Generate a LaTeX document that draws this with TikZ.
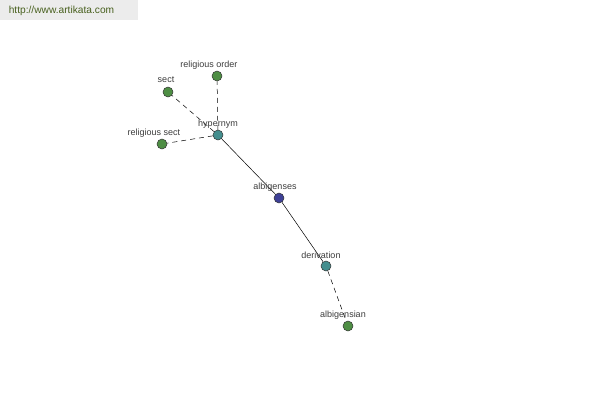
\documentclass[tikz,border=0pt]{standalone}
\usepackage{fontspec}
\setmainfont{Liberation Sans}
\definecolor{leafgreen}{RGB}{78,142,68}
\definecolor{hubteal}{RGB}{68,142,142}
\definecolor{rootblue}{RGB}{62,64,150}
\definecolor{bannergrey}{RGB}{236,236,236}
\definecolor{bannertext}{RGB}{72,96,30}
\definecolor{labelgrey}{RGB}{60,60,60}
\tikzset{
  dot/.style={circle,draw=black!80,line width=0.5pt,inner sep=0pt,minimum size=10pt},
  lbl/.style={inner sep=0pt,text=labelgrey,font=\fontsize{9}{10}\selectfont},
  rel/.style={draw=black,line width=0.5pt},
  relhyp/.style={rel,dash pattern=on 5pt off 4pt}
}
\begin{document}
\begin{tikzpicture}[x=1pt,y=-1pt]
\useasboundingbox (0,0) rectangle (600,400);
\fill[bannergrey] (0,0) rectangle (138,20);
\node[inner sep=0pt,text=bannertext,font=\fontsize{10.2}{11}\selectfont] (site) at (61.5,11) {http://www.artikata.com};
% nodes
\node[dot,fill=hubteal] (hyper) at (218,135) {};
\node[dot,fill=leafgreen] (order) at (217,76) {};
\node[dot,fill=leafgreen] (sect) at (168,92) {};
\node[dot,fill=leafgreen] (rsect) at (162,144) {};
\node[dot,fill=rootblue] (albig) at (279,198) {};
\node[dot,fill=hubteal] (deriv) at (326,266) {};
\node[dot,fill=leafgreen] (albian) at (348,326) {};
% links
\draw[rel] (albig) -- (hyper);
\draw[rel] (albig) -- (deriv);
\draw[relhyp] (hyper) -- (order);
\draw[relhyp] (hyper) -- (sect);
\draw[relhyp] (hyper) -- (rsect);
\draw[relhyp] (deriv) -- (albian);
% labels
\node[lbl] (hyperl) at (218,124) {hypernym};
\node[lbl] (orderl) at (209,65) {religious order};
\node[lbl] (sectl) at (166,80) {sect};
\node[lbl] (rsectl) at (154,133) {religious sect};
\node[lbl] (albigl) at (275,187) {albigenses};
\node[lbl] (derivl) at (321,255) {derivation};
\node[lbl] (albianl) at (343,315) {albigensian};
\end{tikzpicture}
\end{document}
